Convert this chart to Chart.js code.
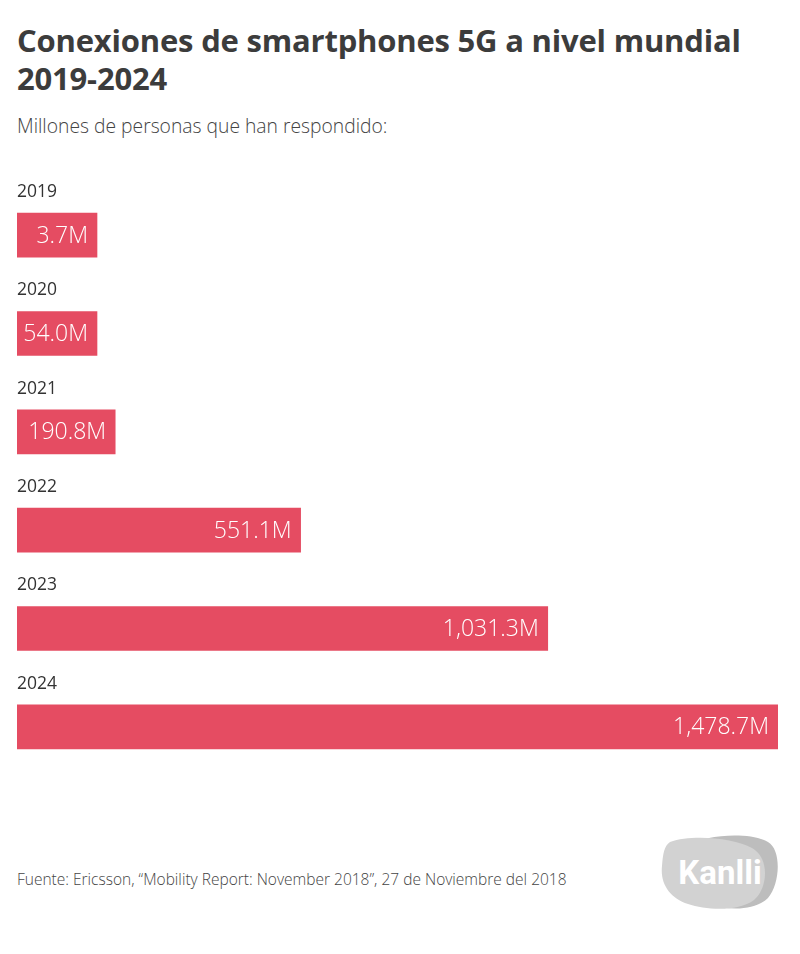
<!DOCTYPE html>
<html>
<head>
<meta charset="utf-8">
<script src="https://cdn.jsdelivr.net/npm/chart.js@4"></script>
<style>
  body { margin: 0; background: #fff; font-family: "Open Sans", sans-serif; }
  #page { position: relative; width: 800px; height: 954px; overflow: hidden; }
  #title { position: absolute; left: 17px; top: 21px; margin: 0; font-size: 31px; line-height: 38px; font-weight: 700; color: #3c3c3c; letter-spacing: -0.2px; }
  #subtitle { position: absolute; left: 17px; top: 112px; font-size: 19.3px; color: #444; font-weight: 300; }
  #chartBox { position: absolute; left: 0; top: 150px; width: 800px; height: 640px; }
  #source { position: absolute; left: 17px; top: 868px; font-size: 15.5px; color: #444; font-weight: 300; }
  #logo { position: absolute; left: 656px; top: 832px; }
</style>
</head>
<body>
<div id="page">
  <h1 id="title">Conexiones de smartphones 5G a nivel mundial<br>2019-2024</h1>
  <div id="subtitle">Millones de personas que han respondido:</div>
  <div id="chartBox"><canvas id="chart"></canvas></div>
  <div id="source">Fuente: Ericsson, “Mobility Report: November 2018”, 27 de Noviembre del 2018</div>
  <svg id="logo" width="126" height="80" viewBox="0 0 126 80">
    <path d="M30 14 C50 2 95 0 112 10 C126 18 124 52 112 66 C98 80 70 78 52 72 C30 70 12 62 8 44 C4 28 16 20 30 14 Z" fill="#bdbdbd"/>
    <path d="M14 10 C36 2 78 6 96 16 C114 26 112 56 98 68 C82 80 50 78 32 72 C14 66 4 52 6 34 C7 22 8 14 14 10 Z" fill="#d2d2d2"/>
    <text x="64" y="52" text-anchor="middle" font-family="Roboto, sans-serif" font-weight="700" font-size="33" fill="#fff">Kanlli</text>
  </svg>
</div>
<script>
const years = ['2019', '2020', '2021', '2022', '2023', '2024'];
const connections = [3.7, 54.0, 190.8, 551.1, 1031.3, 1478.7];
const valueLabels = ['3.7M', '54.0M', '190.8M', '551.1M', '1,031.3M', '1,478.7M'];

const barColor = '#e54c62';

// year above each bar, value inside the bar at its right end
const barLabels = {
    id: 'barLabels',
    afterDatasetsDraw(chart) {
        const ctx = chart.ctx;
        const meta = chart.getDatasetMeta(0);
        const left = chart.chartArea.left;
        ctx.save();
        meta.data.forEach((bar, i) => {
            ctx.textBaseline = 'middle';
            ctx.textAlign = 'left';
            ctx.fillStyle = '#333';
            ctx.font = '400 17.5px "Open Sans", sans-serif';
            ctx.fillText(years[i], left, bar.y - 43);

            ctx.textAlign = 'right';
            ctx.fillStyle = '#fff';
            ctx.font = '300 23px "Open Sans", sans-serif';
            ctx.fillText(valueLabels[i], bar.x - 9, bar.y + 1);
        });
        ctx.restore();
    }
};

new Chart(document.getElementById('chart'), {
    type: 'bar',
    data: {
        labels: years,
        datasets: [{
            data: connections,
            backgroundColor: barColor,
            borderWidth: 0,
            barThickness: 44,
            minBarLength: 80
        }]
    },
    options: {
        indexAxis: 'y',
        responsive: true,
        maintainAspectRatio: false,
        animation: false,
        layout: { padding: { left: 17, right: 22, top: 36, bottom: 14 } },
        plugins: { legend: { display: false }, tooltip: { enabled: false } },
        scales: {
            x: { display: false, min: 0, max: Math.max(...connections) },
            y: { display: false }
        }
    },
    plugins: [barLabels]
});
</script>
</body>
</html>
